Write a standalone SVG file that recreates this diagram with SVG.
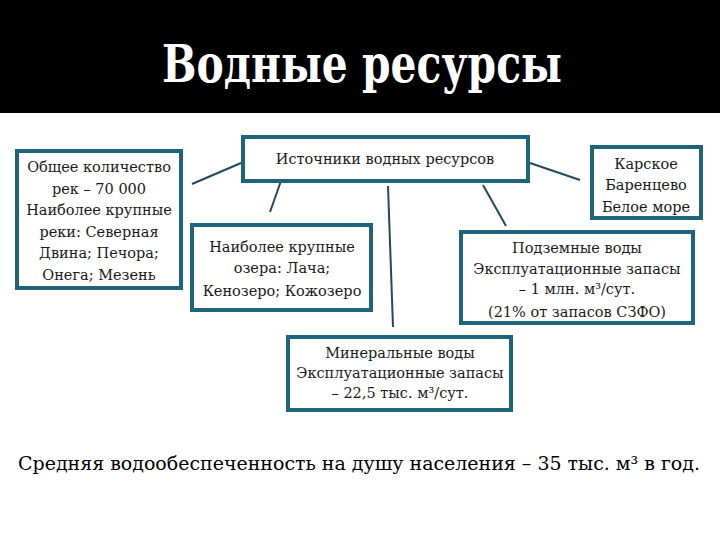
<svg xmlns="http://www.w3.org/2000/svg" width="720" height="540" viewBox="0 0 720 540">
<style>
.box{fill:#ffffff;stroke:#1e6579;stroke-width:4}
.t{font-family:'DejaVu Serif',serif;font-size:14.5px;fill:#1a1a1a;text-anchor:middle}
.c{stroke:#23495e;stroke-width:2;fill:none}
.h{font-family:'DejaVu Serif',serif}
</style>
<rect x="0" y="0" width="720" height="540" fill="#ffffff"/>
<rect x="0" y="0" width="720" height="113" fill="#000000"/>
<text class="h" x="362" y="82" font-weight="bold" font-size="52" fill="#ffffff" text-anchor="middle" textLength="400" lengthAdjust="spacingAndGlyphs">Водные ресурсы</text>
<g id="connectors">
<line class="c" x1="192" y1="184" x2="241" y2="163"/>
<line class="c" x1="281" y1="181" x2="270" y2="212"/>
<line class="c" x1="388" y1="186" x2="393" y2="327"/>
<line class="c" x1="483" y1="185" x2="506" y2="226"/>
<line class="c" x1="530" y1="163" x2="580" y2="180"/>
</g>
<g id="rivers">
<rect class="box" x="17" y="151" width="164" height="137"/>
<text class="t" x="99" y="172">Общее количество</text>
<text class="t" x="99" y="193.5">рек – 70 000</text>
<text class="t" x="99" y="215">Наиболее крупные</text>
<text class="t" x="99" y="236.5">реки: Северная</text>
<text class="t" x="99" y="258">Двина; Печора;</text>
<text class="t" x="99" y="279.5">Онега; Мезень</text>
</g>
<g id="sources">
<rect class="box" x="243" y="137" width="285" height="44"/>
<text class="t" x="385" y="164">Источники водных ресурсов</text>
</g>
<g id="seas">
<rect class="box" x="592" y="147" width="109" height="71"/>
<text class="t" x="646" y="169">Карское</text>
<text class="t" x="646" y="190">Баренцево</text>
<text class="t" x="646" y="212">Белое море</text>
</g>
<g id="lakes">
<rect class="box" x="192" y="225" width="179" height="85"/>
<text class="t" x="282" y="252">Наиболее крупные</text>
<text class="t" x="282" y="273">озера: Лача;</text>
<text class="t" x="282" y="296">Кенозеро; Кожозеро</text>
</g>
<g id="groundwater">
<rect class="box" x="461" y="232" width="232" height="91"/>
<text class="t" x="577" y="252.5">Подземные воды</text>
<text class="t" x="577" y="273.5">Эксплуатационные запасы</text>
<text class="t" x="577" y="294">– 1 млн. м³/сут.</text>
<text class="t" x="577" y="317">(21% от запасов СЗФО)</text>
</g>
<g id="mineral">
<rect class="box" x="288" y="337" width="223" height="73"/>
<text class="t" x="400" y="358">Минеральные воды</text>
<text class="t" x="400" y="378">Эксплуатационные запасы</text>
<text class="t" x="400" y="398">– 22,5 тыс. м³/сут.</text>
</g>
<text class="h" x="359" y="470" font-size="18.5" fill="#000000" text-anchor="middle" textLength="682" lengthAdjust="spacingAndGlyphs">Средняя водообеспеченность на душу населения – 35 тыс. м³ в год.</text>
</svg>
